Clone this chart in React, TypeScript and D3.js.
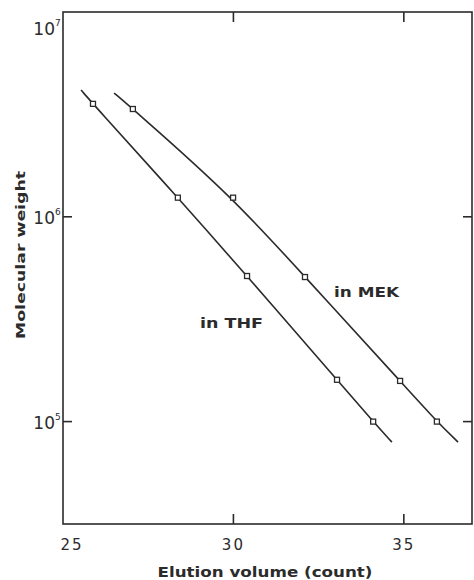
import * as d3 from 'd3';

// elution volume (count) / molecular weight of the standards
const thfCount = [25.88, 28.37, 30.4, 33.04, 34.1];
const thfMw = [3.56e6, 1.24e6, 5.14e5, 1.6e5, 1.0e5];
const mekCount = [27.05, 29.99, 32.1, 34.89, 35.97];
const mekMw = [3.36e6, 1.24e6, 5.08e5, 1.58e5, 1.0e5];

// calibration curves as drawn (ends run past the points)
const thfCurveCount = [25.53, 25.88, 28.37, 30.4, 33.04, 34.1, 34.65];
const thfCurveMw = [4.16e6, 3.56e6, 1.24e6, 5.14e5, 1.6e5, 1.0e5, 7.94e4];
const mekCurveCount = [26.5, 27.05, 29.99, 32.1, 34.89, 35.97, 36.59];
const mekCurveMw = [4.02e6, 3.36e6, 1.24e6, 5.08e5, 1.58e5, 1.0e5, 7.94e4];

const xTicks = [25, 30, 35];
const yTicks = [1e5, 1e6, 1e7];
const yExp = ['5', '6', '7'];

const W = 474;
const H = 580;
const left = 63, right = 472, top = 12, bottom = 524;
const ink = '#2b2b2b';
const font = '"DejaVu Sans", sans-serif';

const App = () => {
  const x = d3.scaleLinear().domain([25, 37]).range([left, right]);
  const y = d3.scaleLog().domain([Math.pow(10, 4.5), 1e7]).range([bottom, top]);

  // hand-drawn calibration curves are smooth, so use a B-spline through the readings
  const line = d3.line<[number, number]>()
    .x(d => x(d[0]))
    .y(d => y(d[1]))
    .curve(d3.curveBasis);

  const thfCurve = thfCurveCount.map((c, i) => [c, thfCurveMw[i]] as [number, number]);
  const mekCurve = mekCurveCount.map((c, i) => [c, mekCurveMw[i]] as [number, number]);
  const pts = [
    ...thfCount.map((c, i) => [c, thfMw[i]]),
    ...mekCount.map((c, i) => [c, mekMw[i]]),
  ];

  return (
    <svg width={W} height={H} style={{ position: 'absolute', left: 0, top: 0, background: '#fff' }}>
      <rect x={left} y={top} width={right - left} height={bottom - top}
        fill="none" stroke={ink} strokeWidth={1.6} />

      {xTicks.map(t => (
        <g key={t}>
          {t !== 25 && <line x1={x(t)} x2={x(t)} y1={bottom} y2={bottom - 10} stroke={ink} strokeWidth={1.6} />}
          {t !== 25 && <line x1={x(t)} x2={x(t)} y1={top} y2={top + 10} stroke={ink} strokeWidth={1.6} />}
          <text x={x(t) + (t === 25 ? 9 : 0)} y={550} textAnchor="middle" fontFamily={font}
            fontSize={15} fill={ink} letterSpacing={2}>{t}</text>
        </g>
      ))}

      {yTicks.map((t, i) => (
        <g key={t}>
          {t !== 1e7 && <line x1={left} x2={left + 9} y1={y(t)} y2={y(t)} stroke={ink} strokeWidth={1.6} />}
          {t !== 1e7 && <line x1={right} x2={right - 9} y1={y(t)} y2={y(t)} stroke={ink} strokeWidth={1.6} />}
          <text x={55} y={y(t) + (t === 1e7 ? 23 : 7)} textAnchor="end" fontFamily={font}
            fontSize={17} fill={ink}>10</text>
          <text x={55} y={y(t) + (t === 1e7 ? 14 : -2)} fontFamily={font}
            fontSize={9} fill={ink}>{yExp[i]}</text>
        </g>
      ))}

      <path d={line(thfCurve) || ''} fill="none" stroke={ink} strokeWidth={1.6} />
      <path d={line(mekCurve) || ''} fill="none" stroke={ink} strokeWidth={1.6} />

      {pts.map((p, i) => (
        <rect key={i} x={x(p[0]) - 2.5} y={y(p[1]) - 2.5} width={5} height={5}
          fill="#fff" stroke={ink} strokeWidth={1.3} />
      ))}

      <text x={200} y={328} fontFamily={font} fontSize={14} fontWeight="bold" fill={ink}
        textLength={63} lengthAdjust="spacingAndGlyphs">in THF</text>
      <text x={334} y={297} fontFamily={font} fontSize={14} fontWeight="bold" fill={ink}
        textLength={65} lengthAdjust="spacingAndGlyphs">in MEK</text>

      <text x={265} y={577} textAnchor="middle" fontFamily={font} fontSize={14}
        fontWeight="bold" fill={ink} textLength={215} lengthAdjust="spacingAndGlyphs">
        Elution volume (count)</text>
      <text transform="translate(25,255) rotate(-90)" textAnchor="middle" fontFamily={font}
        fontSize={13} fontWeight="bold" fill={ink} textLength={168} lengthAdjust="spacingAndGlyphs">
        Molecular weight</text>
    </svg>
  );
};

export default App;
